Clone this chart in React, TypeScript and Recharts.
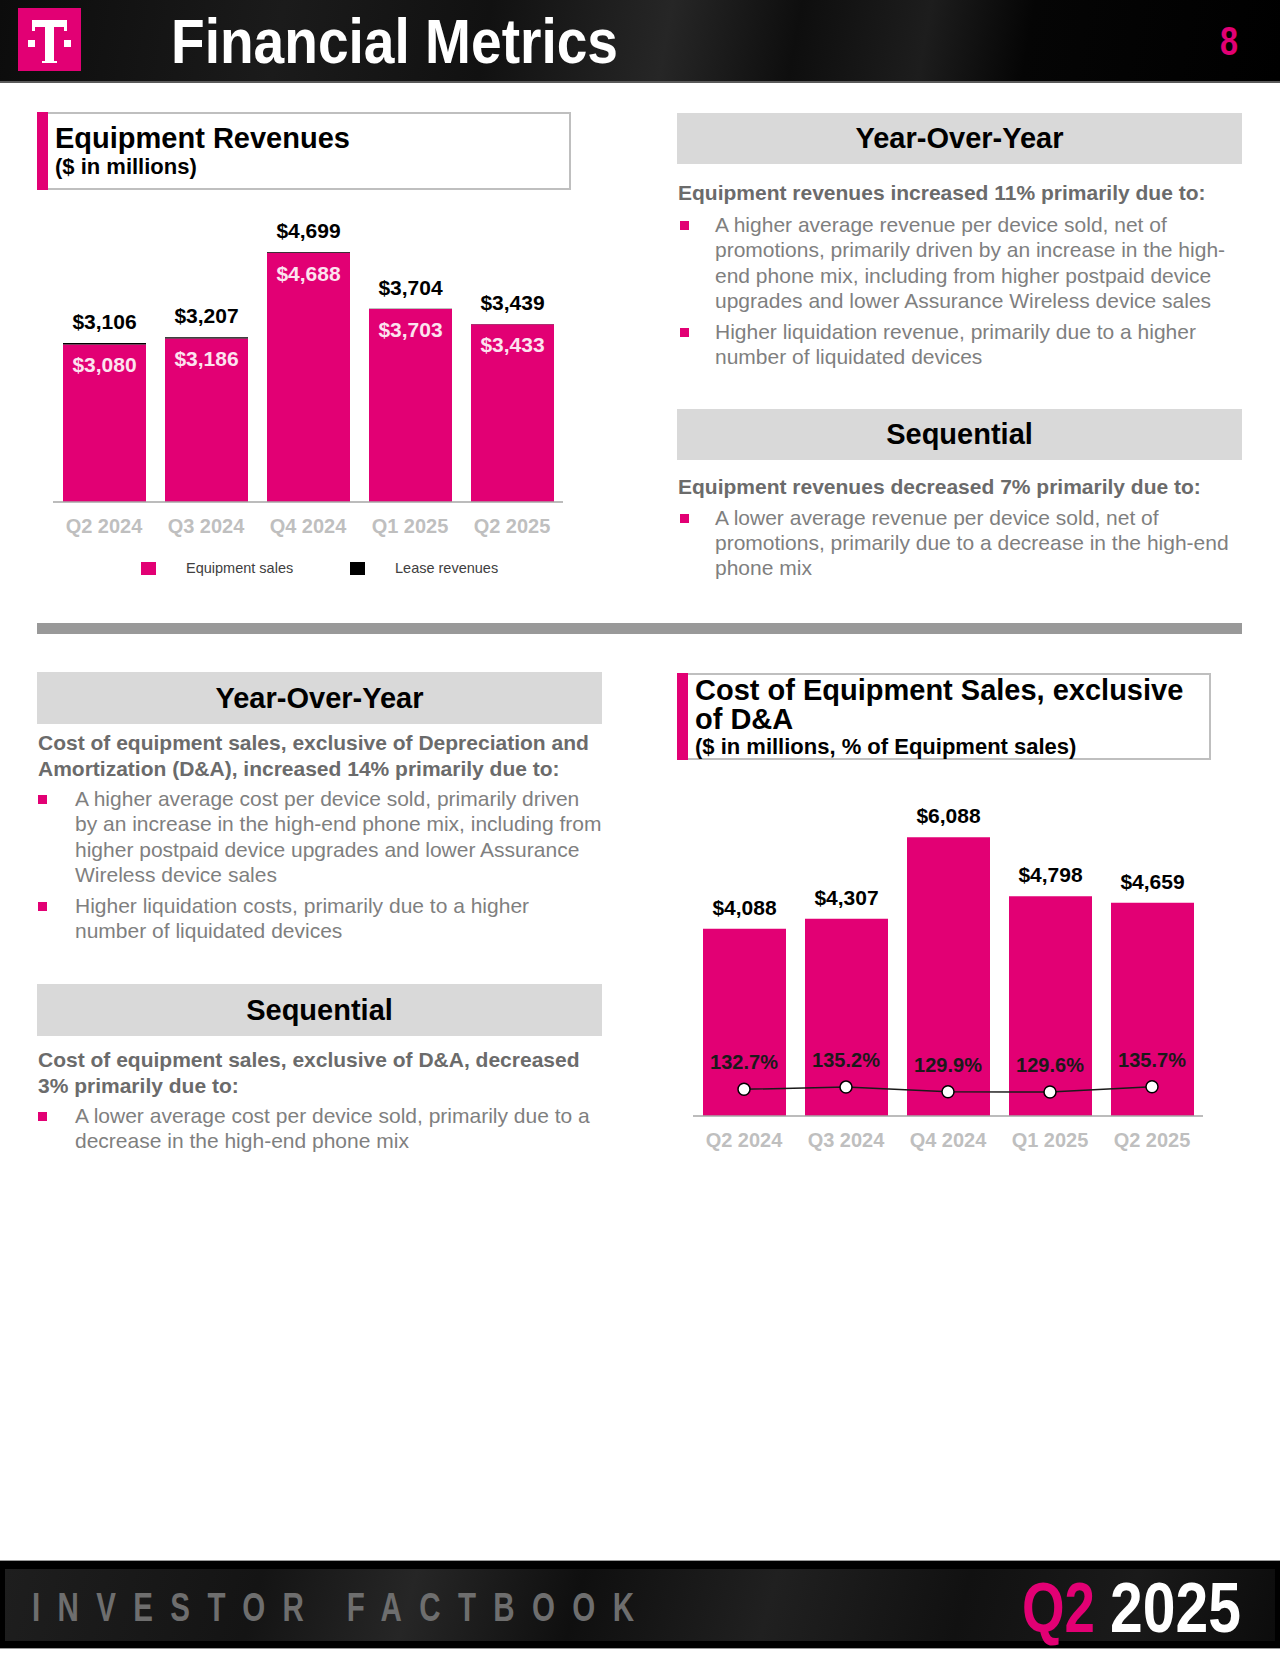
import React from 'react';
import { BarChart, Bar, ComposedChart, Line, XAxis, YAxis, LabelList } from 'recharts';

// ---------- DATA ----------
const quarters = ['Q2 2024', 'Q3 2024', 'Q4 2024', 'Q1 2025', 'Q2 2025'];
const equipmentSales = [3080, 3186, 4688, 3703, 3433];
const leaseRevenues = [26, 21, 11, 1, 6];
const equipmentTotals = [3106, 3207, 4699, 3704, 3439];
const costOfEquipmentSales = [4088, 4307, 6088, 4798, 4659];
const costPctOfSales = [132.7, 135.2, 129.9, 129.6, 135.7];

const revenueData = quarters.map((q, i) => ({
  q,
  sales: equipmentSales[i],
  lease: leaseRevenues[i],
  total: equipmentTotals[i],
}));
const costData = quarters.map((q, i) => ({
  q,
  cost: costOfEquipmentSales[i],
  pct: costPctOfSales[i],
}));

// ---------- STYLE ----------
const PINK = '#E20074';
const FONT = '"Liberation Sans", Arial, Helvetica, sans-serif';
const BODY = '#7F7F7F';
const SUB = '#6B6B6B';

const fmtMoney = (v: any) => '$' + Number(v).toLocaleString('en-US');
const fmtPct = (v: any) => Number(v).toFixed(1) + '%';

const abs = (l: number, t: number, w?: number, h?: number): React.CSSProperties => ({
  position: 'absolute', left: l, top: t, width: w, height: h,
});

function GrayBox({ x, y, w, h, title }: { x: number; y: number; w: number; h: number; title: string }) {
  return (
    <div style={{ ...abs(x, y, w, h), background: '#D9D9D9', display: 'flex', alignItems: 'center', justifyContent: 'center', fontSize: 29, fontWeight: 700, color: '#000' }}>
      {title}
    </div>
  );
}

function Lines({ x, top, lines, size = 21, lh = 25.3, color = BODY, bold = false }: any) {
  return (
    <div style={{ ...abs(x, top), fontSize: size, lineHeight: lh + 'px', color, fontWeight: bold ? 700 : 400, whiteSpace: 'nowrap' }}>
      {lines.map((s: string, i: number) => (
        <div key={i} style={{ height: lh }}>{s}</div>
      ))}
    </div>
  );
}

function Bullet({ bx, tx, top, lines }: { bx: number; tx: number; top: number; lines: string[] }) {
  return (
    <>
      <div style={{ ...abs(bx, top + 9, 9, 9), background: PINK }} />
      <Lines x={tx} top={top} lines={lines} />
    </>
  );
}

function TitleBox({ x, y, w, h, children }: any) {
  return (
    <div style={{ ...abs(x, y, w, h), border: '2px solid #BFBFBF', boxSizing: 'border-box', background: '#fff' }}>
      <div style={{ position: 'absolute', left: -2, top: -2, width: 11, height: h, background: PINK }} />
      {children}
    </div>
  );
}

const tickStyle = { fill: '#BFBFBF', fontSize: 20, fontWeight: 700, fontFamily: FONT };

export default function App() {
  return (
    <div style={{ position: 'absolute', left: 0, top: 0, width: 1280, height: 1656, background: '#fff', fontFamily: FONT, overflow: 'hidden' }}>
      {/* HEADER */}
      <div style={{ ...abs(0, 0, 1280, 81), background: 'linear-gradient(100deg, #0c0c0c 0%, #1b1b1b 22%, #111 38%, #262626 52%, #0e0e0e 62%, #1d1d1d 72%, #050505 80%, #000 100%)' }} />
      <div style={{ ...abs(0, 81, 1280, 2), background: '#5a5a5a' }} />
      <div style={{ ...abs(18, 8, 63, 63), background: PINK }}>
        <div style={{ ...abs(14, 12, 35, 7), background: '#fff' }} />
        <div style={{ ...abs(14, 12, 3, 11), background: '#fff' }} />
        <div style={{ ...abs(46, 12, 3, 11), background: '#fff' }} />
        <div style={{ ...abs(27, 12, 9, 43), background: '#fff' }} />
        <div style={{ ...abs(24, 53, 15, 2), background: '#fff' }} />
        <div style={{ ...abs(10, 32, 7, 7), background: '#fff' }} />
        <div style={{ ...abs(46, 32, 7, 7), background: '#fff' }} />
      </div>
      <svg style={abs(0, 0, 1280, 83)} width={1280} height={83}>
        <text x={171} y={63} fill="#fff" fontSize={63} fontWeight={700} fontFamily={FONT} textLength={447} lengthAdjust="spacingAndGlyphs">Financial Metrics</text>
        <text x={1220} y={55} fill={PINK} fontSize={40} fontWeight={700} fontFamily={FONT} textLength={18} lengthAdjust="spacingAndGlyphs">8</text>
      </svg>

      {/* EQUIPMENT REVENUES TITLE */}
      <TitleBox x={37} y={112} w={534} h={78}>
        <div style={{ ...abs(16, 10), fontSize: 29, fontWeight: 700, lineHeight: '29px', color: '#000', whiteSpace: 'nowrap' }}>Equipment Revenues</div>
        <div style={{ ...abs(16, 40), fontSize: 22, fontWeight: 700, lineHeight: '26px', color: '#000', whiteSpace: 'nowrap' }}>($ in millions)</div>
      </TitleBox>

      {/* CHART 1 */}
      <div style={abs(37, 200, 540, 360)}>
        <BarChart width={540} height={360} data={revenueData} margin={{ top: 20, right: 14, left: 16, bottom: 18 }} barSize={83}>
          <XAxis dataKey="q" height={40} interval={0} tickLine={false} tickSize={6} tickMargin={11} axisLine={{ stroke: '#A6A6A6', strokeWidth: 1.5 }} tick={tickStyle} />
          <YAxis hide domain={[321, 5260]} allowDataOverflow />
          <Bar dataKey="sales" stackId="a" fill={PINK} isAnimationActive={false}>
            <LabelList dataKey="sales" position="insideTop" offset={13} fill="#FCE3EF" fontSize={21} fontWeight={700} fontFamily={FONT} formatter={fmtMoney} />
          </Bar>
          <Bar dataKey="lease" stackId="a" fill="#000" isAnimationActive={false}>
            <LabelList dataKey="total" position="top" offset={14} fill="#000" fontSize={21} fontWeight={700} fontFamily={FONT} formatter={fmtMoney} />
          </Bar>
        </BarChart>
      </div>

      {/* LEGEND */}
      <div style={{ ...abs(141, 562, 15, 13), background: PINK }} />
      <div style={{ ...abs(186, 559), fontSize: 14.5, lineHeight: '18px', color: '#404040', whiteSpace: 'nowrap' }}>Equipment sales</div>
      <div style={{ ...abs(350, 562, 15, 13), background: '#000' }} />
      <div style={{ ...abs(395, 559), fontSize: 14.5, lineHeight: '18px', color: '#404040', whiteSpace: 'nowrap' }}>Lease revenues</div>

      {/* TOP RIGHT TEXT */}
      <GrayBox x={677} y={113} w={565} h={51} title="Year-Over-Year" />
      <Lines x={678} top={180} lines={['Equipment revenues increased 11% primarily due to:']} bold color={SUB} />
      <Bullet bx={680} tx={715} top={212} lines={[
        'A higher average revenue per device sold, net of',
        'promotions, primarily driven by an increase in the high-',
        'end phone mix, including from higher postpaid device',
        'upgrades and lower Assurance Wireless device sales',
      ]} />
      <Bullet bx={680} tx={715} top={318.5} lines={[
        'Higher liquidation revenue, primarily due to a higher',
        'number of liquidated devices',
      ]} />
      <GrayBox x={677} y={409} w={565} h={51} title="Sequential" />
      <Lines x={678} top={474} lines={['Equipment revenues decreased 7% primarily due to:']} bold color={SUB} />
      <Bullet bx={680} tx={715} top={504.5} lines={[
        'A lower average revenue per device sold, net of',
        'promotions, primarily due to a decrease in the high-end',
        'phone mix',
      ]} />

      {/* SEPARATOR */}
      <div style={{ ...abs(37, 623, 1205, 11), background: '#999999' }} />

      {/* BOTTOM LEFT TEXT */}
      <GrayBox x={37} y={672} w={565} h={52} title="Year-Over-Year" />
      <Lines x={38} top={730} lh={25.5} lines={[
        'Cost of equipment sales, exclusive of Depreciation and',
        'Amortization (D&A), increased 14% primarily due to:',
      ]} bold color={SUB} />
      <Bullet bx={38} tx={75} top={786} lines={[
        'A higher average cost per device sold, primarily driven',
        'by an increase in the high-end phone mix, including from',
        'higher postpaid device upgrades and lower Assurance',
        'Wireless device sales',
      ]} />
      <Bullet bx={38} tx={75} top={893} lines={[
        'Higher liquidation costs, primarily due to a higher',
        'number of liquidated devices',
      ]} />
      <GrayBox x={37} y={984} w={565} h={52} title="Sequential" />
      <Lines x={38} top={1047} lh={25.5} lines={[
        'Cost of equipment sales, exclusive of D&A, decreased',
        '3% primarily due to:',
      ]} bold color={SUB} />
      <Bullet bx={38} tx={75} top={1103} lines={[
        'A lower average cost per device sold, primarily due to a',
        'decrease in the high-end phone mix',
      ]} />

      {/* COST TITLE */}
      <TitleBox x={677} y={673} w={534} h={87}>
        <div style={{ ...abs(16, 1), fontSize: 29, fontWeight: 700, lineHeight: '29px', color: '#000', whiteSpace: 'nowrap' }}>
          <div>Cost of Equipment Sales, exclusive</div>
          <div>of D&amp;A</div>
        </div>
        <div style={{ ...abs(16, 59), fontSize: 22, fontWeight: 700, lineHeight: '26px', color: '#000', whiteSpace: 'nowrap' }}>($ in millions, % of Equipment sales)</div>
      </TitleBox>

      {/* CHART 2 */}
      <div style={abs(677, 780, 560, 380)}>
        <ComposedChart width={560} height={380} data={costData} margin={{ top: 20, right: 34, left: 16, bottom: 4 }} barSize={83}>
          <XAxis dataKey="q" height={40} interval={0} tickLine={false} tickSize={6} tickMargin={11} axisLine={{ stroke: '#A6A6A6', strokeWidth: 1.5 }} tick={tickStyle} />
          <YAxis yAxisId="l" hide domain={[0, 6900]} allowDataOverflow />
          <YAxis yAxisId="r" orientation="right" hide domain={[102, 465]} allowDataOverflow />
          <Bar yAxisId="l" dataKey="cost" fill={PINK} isAnimationActive={false}>
            <LabelList dataKey="cost" position="top" offset={14} fill="#000" fontSize={21} fontWeight={700} fontFamily={FONT} formatter={fmtMoney} />
          </Bar>
          <Line yAxisId="r" dataKey="pct" stroke="#1a1a1a" strokeWidth={1.5} isAnimationActive={false} activeDot={false}
            dot={{ r: 6, fill: '#fff', stroke: '#000', strokeWidth: 1.5 }}>
            <LabelList dataKey="pct" position="top" offset={20} fill="#1a1a1a" fontSize={20} fontWeight={700} fontFamily={FONT} formatter={fmtPct} />
          </Line>
        </ComposedChart>
      </div>

      {/* FOOTER */}
      <div style={{ ...abs(0, 1560, 1280, 1), background: '#9a9a9a' }} />
      <div style={{ ...abs(0, 1561, 1280, 87), background: '#000' }} />
      <div style={{ ...abs(5, 1569, 1270, 72), background: 'linear-gradient(105deg, #1e1e1e 0%, #141414 20%, #262626 32%, #0f0f0f 45%, #202020 60%, #111 75%, #1a1a1a 88%, #0c0c0c 100%)' }} />
      <div style={{ ...abs(0, 1648, 1280, 1), background: '#9a9a9a' }} />
      <svg style={abs(0, 1556, 1280, 100)} width={1280} height={100}>
        <g transform="scale(0.72,1)">
          <text x={32 / 0.72} y={65} fill="#6E6E6E" fontSize={41} fontWeight={700} fontFamily={FONT} textLength={602 / 0.72} lengthAdjust="spacing">INVESTOR FACTBOOK</text>
        </g>
        <text x={1022} y={76} fill={PINK} fontSize={70} fontWeight={700} fontFamily={FONT} textLength={73} lengthAdjust="spacingAndGlyphs">Q2</text>
        <text x={1110} y={76} fill="#fff" fontSize={70} fontWeight={700} fontFamily={FONT} textLength={131} lengthAdjust="spacingAndGlyphs">2025</text>
      </svg>
    </div>
  );
}
